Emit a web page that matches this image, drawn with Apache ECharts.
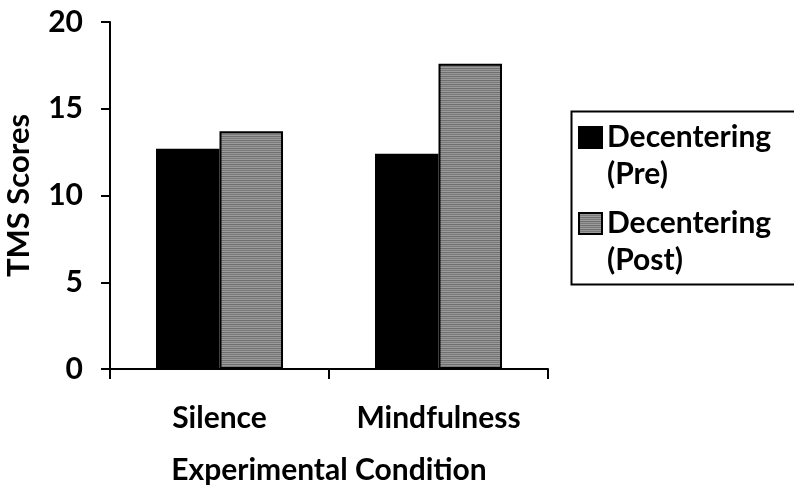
<!DOCTYPE html>
<html>
<head>
<meta charset="utf-8">
<style>
  html, body { margin: 0; padding: 0; background: #fff; }
  #chart { width: 794px; height: 495px; }
</style>
<script src="https://cdn.jsdelivr.net/npm/echarts@6/dist/echarts.min.js"></script>
</head>
<body>
<div id="chart"></div>
<script>
// Data
const conditions = ['Silence', 'Mindfulness'];
const seriesNames = ['Decentering\n(Pre)', 'Decentering\n(Post)'];
const preScores = [12.7, 12.4];
const postScores = [13.7, 17.6];
const yTicks = [0, 5, 10, 15, 20];

const FONT = 'Lato';

// Fine horizontal stripe texture for the "post" bars
function stripeTexture() {
  const c = document.createElement('canvas');
  c.width = 4; c.height = 4;
  const g = c.getContext('2d');
  const rows = ['#6f6f6f', '#969696', '#7a7a7a', '#9c9c9c'];
  rows.forEach((col, i) => { g.fillStyle = col; g.fillRect(0, i, 4, 1); });
  return { image: c, repeat: 'repeat' };
}

const chart = echarts.init(document.getElementById('chart'), null, { renderer: 'canvas' });

const textBase = { fontFamily: FONT, fontWeight: 'bold', fontSize: 30, color: '#000' };

chart.setOption({
  animation: false,
  backgroundColor: '#fff',
  grid: { left: 110, right: 246, top: 22, bottom: 126, containLabel: false, outerBoundsMode: 'none' },
  xAxis: {
    type: 'category',
    data: conditions,
    name: 'Experimental Condition',
    nameLocation: 'middle',
    nameGap: 86,
    nameTextStyle: textBase,
    axisLine: { lineStyle: { color: '#000', width: 2 } },
    axisTick: { show: true, length: 10, lineStyle: { color: '#000', width: 2 } },
    axisLabel: Object.assign({ margin: 34 }, textBase)
  },
  yAxis: {
    type: 'value',
    min: yTicks[0],
    max: yTicks[yTicks.length - 1],
    interval: yTicks[1] - yTicks[0],
    name: 'TMS Scores',
    nameLocation: 'middle',
    nameGap: 76,
    nameRotate: 90,
    nameTextStyle: Object.assign({}, textBase, { fontSize: 31 }),
    axisLine: { show: true, lineStyle: { color: '#000', width: 2 } },
    axisTick: { show: true, length: 9, lineStyle: { color: '#000', width: 2 } },
    axisLabel: Object.assign({ margin: 27 }, textBase),
    splitLine: { show: false }
  },
  legend: {
    orient: 'vertical',
    left: 578,
    top: 82,
    padding: 0,
    icon: 'rect',
    itemWidth: 23,
    itemHeight: 21,
    itemGap: -25,
    selectedMode: false,
    // leading blank line keeps the marker level with the first text line
    formatter: name => '\n' + name,
    textStyle: Object.assign({}, textBase, { lineHeight: 37 }),
    data: seriesNames
  },
  graphic: [{
    type: 'rect',
    left: 569, top: 109,
    shape: { width: 260, height: 173 },
    style: { fill: 'none', stroke: '#000', lineWidth: 2 },
    z: 0
  }],
  series: [
    {
      name: seriesNames[0],
      type: 'bar',
      data: preScores,
      barGap: '0%',
      barCategoryGap: '42%',
      itemStyle: { color: '#000', borderColor: '#000', borderWidth: 2 }
    },
    {
      name: seriesNames[1],
      type: 'bar',
      data: postScores,
      barGap: '0%',
      barCategoryGap: '42%',
      itemStyle: { color: stripeTexture(), borderColor: '#000', borderWidth: 2 }
    }
  ]
});
</script>
</body>
</html>
